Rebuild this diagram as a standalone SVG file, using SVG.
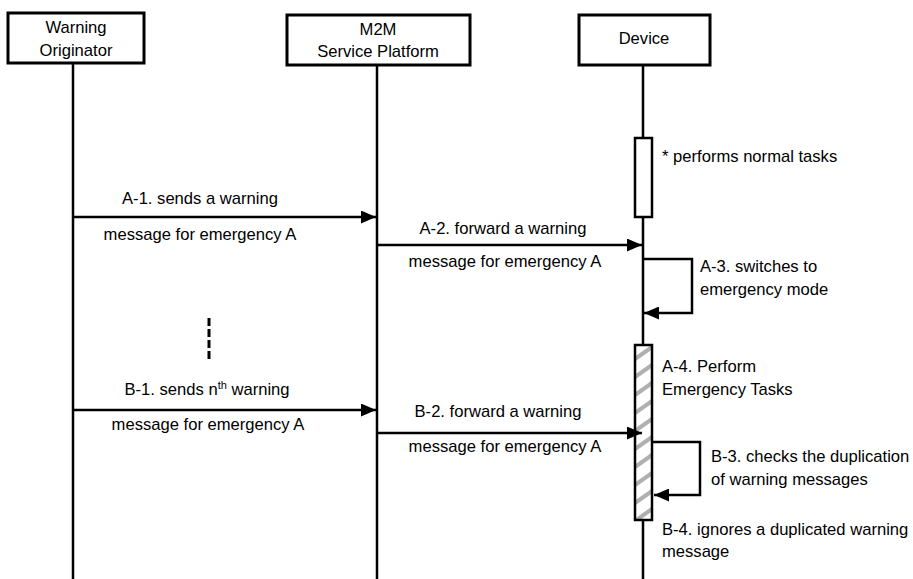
<svg xmlns="http://www.w3.org/2000/svg" width="913" height="579" viewBox="0 0 913 579">
  <style>
    .box { fill: #fff; stroke: #000; stroke-width: 3; }
    .life { stroke: #000; stroke-width: 2.5; fill: none; }
    .msg { stroke: #000; stroke-width: 2.5; fill: none; }
    .act { fill: #fff; stroke: #000; stroke-width: 2.5; }
    text { font-family: "Liberation Sans", Arial, sans-serif; font-size: 16.6px; fill: #000; }
    .c { text-anchor: middle; }
  </style>
  <defs>
    <marker id="arrow" viewBox="0 0 15 13" refX="15" refY="6.5" markerWidth="15" markerHeight="13" markerUnits="userSpaceOnUse" orient="auto">
      <path d="M0,0 L15,6.5 L0,13 Z" fill="#000"/>
    </marker>
    <pattern id="hatch" patternUnits="userSpaceOnUse" x="635" y="345" width="17" height="18">
      <rect width="17" height="18" fill="#fff"/>
      <path d="M0,14 L17,2" stroke="#b0b0b0" stroke-width="4"/>
    </pattern>
  </defs>

  <!-- lifelines -->
  <g id="lifelines">
    <line class="life" x1="73" y1="63" x2="73" y2="579"/>
    <line class="life" x1="377" y1="65" x2="377" y2="579"/>
    <line class="life" x1="643" y1="65" x2="643" y2="579"/>
  </g>

  <!-- participants -->
  <g id="warning-originator">
    <rect class="box" x="8" y="13" width="136" height="50"/>
    <text class="c" x="76" y="33">Warning</text>
    <text class="c" x="76" y="56">Originator</text>
  </g>
  <g id="m2m-service-platform">
    <rect class="box" x="287" y="15" width="183" height="50"/>
    <text class="c" x="378" y="35">M2M</text>
    <text class="c" x="378" y="57">Service Platform</text>
  </g>
  <g id="device">
    <rect class="box" x="579" y="15" width="131" height="50"/>
    <text class="c" x="644" y="44">Device</text>
  </g>

  <!-- activations on the device lifeline -->
  <g id="normal-tasks">
    <rect class="act" x="635" y="138" width="17" height="79"/>
    <text x="662" y="162">* performs normal tasks</text>
  </g>
  <g id="emergency-tasks">
    <rect x="635" y="345" width="17" height="175" fill="url(#hatch)" stroke="#000" stroke-width="2.5"/>
    <text x="662" y="372">A-4. Perform</text>
    <text x="662" y="395">Emergency Tasks</text>
  </g>

  <!-- messages -->
  <g id="connectors">
    <line class="msg" x1="73" y1="217" x2="376" y2="217" marker-end="url(#arrow)"/>
    <line class="msg" x1="377" y1="245" x2="642" y2="245" marker-end="url(#arrow)"/>
    <polyline class="msg" points="643,259 692,259 692,313 644,313" marker-end="url(#arrow)"/>
    <line class="msg" x1="73" y1="410" x2="376" y2="410" marker-end="url(#arrow)"/>
    <line class="msg" x1="377" y1="433" x2="642" y2="433" marker-end="url(#arrow)"/>
    <polyline class="msg" points="653,442 700,442 700,495 654,495" marker-end="url(#arrow)"/>
    <line x1="209" y1="318" x2="209" y2="359" stroke="#000" stroke-width="3" stroke-dasharray="8,3"/>
  </g>

  <!-- message labels -->
  <g id="labels">
    <text class="c" x="200" y="204">A-1. sends a warning</text>
    <text class="c" x="200" y="240">message for emergency A</text>
    <text class="c" x="503" y="234">A-2. forward a warning</text>
    <text class="c" x="505" y="267">message for emergency A</text>
    <text x="700" y="272">A-3. switches to</text>
    <text x="700" y="295">emergency mode</text>
    <text class="c" x="207" y="395">B-1. sends n<tspan dy="-6" font-size="11">th</tspan><tspan dy="6"> warning</tspan></text>
    <text class="c" x="208" y="430">message for emergency A</text>
    <text class="c" x="498" y="417">B-2. forward a warning</text>
    <text class="c" x="505" y="452">message for emergency A</text>
    <text x="711" y="462">B-3. checks the duplication</text>
    <text x="711" y="485">of warning messages</text>
    <text x="662" y="535">B-4. ignores a duplicated warning</text>
    <text x="662" y="557">message</text>
  </g>
</svg>
